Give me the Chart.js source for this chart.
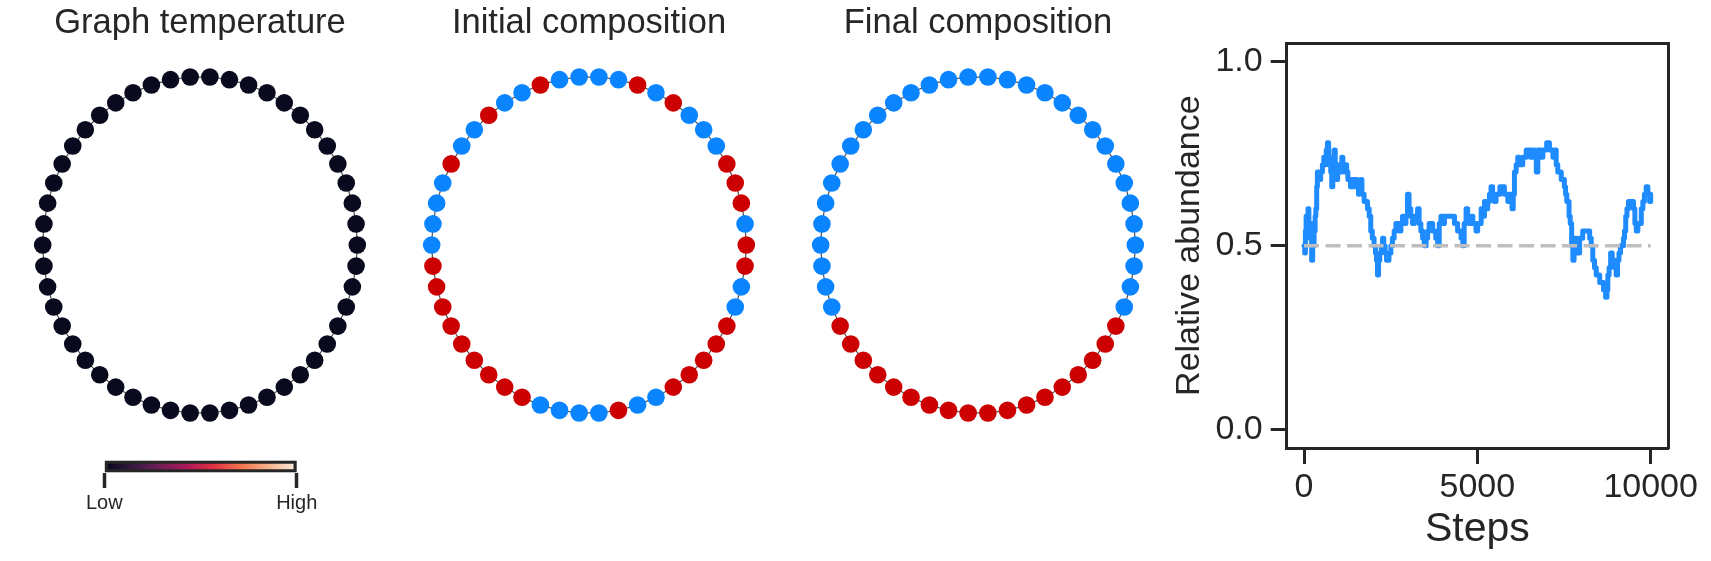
<!DOCTYPE html>
<html>
<head>
<meta charset="utf-8">
<script src="https://cdn.jsdelivr.net/npm/chart.js@4.4.1/dist/chart.umd.min.js"></script>
<style>
  html, body { margin: 0; padding: 0; background: #ffffff; }
  #wrap { position: relative; width: 1711px; height: 561px; overflow: hidden; background: #ffffff; }
  canvas { position: absolute; }
</style>
</head>
<body>
<div id="wrap">
  <canvas id="ringTemp" width="380" height="440" style="left:10px; top:0px;"></canvas>
  <canvas id="ringInit" width="380" height="440" style="left:399px; top:0px;"></canvas>
  <canvas id="ringFinal" width="380" height="440" style="left:788px; top:0px;"></canvas>
  <canvas id="cbar" width="400" height="121" style="left:0px; top:440px;"></canvas>
  <canvas id="lineChart" width="611" height="561" style="left:1100px; top:0px;"></canvas>
</div>
<script>
// ---------------- DATA ----------------
const panelTitles = ['Graph temperature', 'Initial composition', 'Final composition'];

// node states, listed from the leftmost node going clockwise (up over the top)
const graphTemperature = [
  0,0,0,0,0,0,0,0,0,0, 0,0,0,0,0,0,0,0,0,0,
  0,0,0,0,0,0,0,0,0,0, 0,0,0,0,0,0,0,0,0,0,
  0,0,0,0,0,0,0,0,0,0
];
const initialComposition = [
  'B','B','B','B','R','B','B','R','B','B',
  'R','B','B','B','B','R','B','R','B','B',
  'B','R','R','R','B','R','R','B','B','R',
  'R','R','R','R','B','B','R','B','B','B',
  'B','R','R','R','R','R','R','R','R','R'
];
const finalComposition = [
  'B','B','B','B','B','B','B','B','B','B',
  'B','B','B','B','B','B','B','B','B','B',
  'B','B','B','B','B','B','B','B','B','R',
  'R','R','R','R','R','R','R','R','R','R',
  'R','R','R','R','R','R','R','B','B','B'
];

// colour bar
const cbarRange = [0, 1];
const cbarTickValues = [0, 1];
const cbarTickLabels = ['Low', 'High'];
const rocketStops = ['#03051a', '#35193e', '#701f57', '#ad1759', '#e13342', '#f37651', '#f6b48f', '#faebdd'];

// relative abundance time series
const steps = [
  0,20,40,60,90,115,140,170,200,220,250,290,320,340,365,385,430,480,530,570,
  600,640,675,710,740,770,800,830,867,900,935,970,1010,1050,1090,1120,1155,1190,1230,1265,
  1300,1340,1375,1420,1460,1490,1530,1570,1600,1635,1670,1733,1780,1830,1880,1925,1970,2020,2060,2090,
  2120,2150,2185,2230,2265,2300,2340,2380,2410,2450,2505,2550,2600,2650,2700,2750,2795,2840,2890,2940,
  2985,3030,3080,3130,3180,3230,3275,3320,3370,3420,3470,3520,3565,3610,3660,3710,3755,3800,3855,3900,
  3950,4000,4050,4095,4200,4290,4340,4385,4430,4480,4530,4580,4620,4675,4720,4770,4820,4870,4915,4960,
  5010,5058,5110,5155,5205,5250,5300,5350,5395,5440,5490,5540,5590,5650,5730,5780,5830,5880,5925,5960,
  6000,6035,6070,6120,6165,6210,6260,6310,6360,6410,6455,6530,6600,6650,6700,6745,6795,6840,6890,6950,
  7000,7030,7080,7130,7180,7225,7275,7320,7370,7420,7470,7510,7545,7580,7610,7645,7680,7720,7755,7790,
  7830,7860,7900,7950,7995,8040,8090,8140,8190,8240,8285,8330,8380,8430,8480,8530,8575,8640,8700,8740,
  8765,8800,8845,8890,8930,8970,9005,9045,9085,9130,9180,9215,9245,9280,9315,9360,9410,9460,9505,9545,
  9585,9630,9680,9730,9775,9820,9870,9920,9970,10000
];
const abundance = [
  0.50,0.48,0.54,0.58,0.56,0.60,0.54,0.52,0.56,0.46,0.50,0.54,0.58,0.60,0.66,0.70,0.68,0.70,0.72,0.74,
  0.72,0.76,0.78,0.74,0.72,0.70,0.66,0.72,0.76,0.72,0.68,0.70,0.72,0.70,0.74,0.72,0.70,0.72,0.70,0.68,
  0.68,0.66,0.66,0.68,0.66,0.68,0.66,0.64,0.66,0.68,0.64,0.62,0.62,0.60,0.58,0.54,0.52,0.50,0.48,0.46,
  0.42,0.46,0.48,0.50,0.52,0.50,0.48,0.46,0.46,0.48,0.50,0.52,0.54,0.56,0.56,0.54,0.56,0.58,0.56,0.58,
  0.64,0.60,0.58,0.56,0.58,0.58,0.60,0.56,0.54,0.52,0.50,0.52,0.54,0.56,0.56,0.54,0.54,0.52,0.50,0.56,
  0.58,0.56,0.58,0.58,0.58,0.58,0.56,0.56,0.54,0.54,0.52,0.50,0.56,0.60,0.58,0.56,0.58,0.56,0.56,0.54,
  0.56,0.56,0.60,0.58,0.62,0.60,0.62,0.64,0.66,0.64,0.62,0.64,0.64,0.66,0.66,0.64,0.64,0.62,0.64,0.62,
  0.60,0.64,0.70,0.72,0.74,0.72,0.72,0.74,0.74,0.76,0.76,0.74,0.76,0.74,0.70,0.76,0.76,0.74,0.76,0.76,
  0.78,0.78,0.76,0.76,0.74,0.76,0.72,0.70,0.70,0.68,0.68,0.66,0.64,0.62,0.62,0.58,0.56,0.50,0.46,0.52,
  0.52,0.48,0.48,0.52,0.52,0.54,0.54,0.54,0.54,0.52,0.50,0.46,0.44,0.42,0.42,0.40,0.40,0.38,0.36,0.38,
  0.42,0.44,0.48,0.46,0.46,0.44,0.42,0.46,0.48,0.50,0.50,0.52,0.54,0.58,0.60,0.62,0.62,0.62,0.60,0.56,
  0.54,0.56,0.56,0.60,0.62,0.64,0.66,0.64,0.62,0.64
];
const baselineSteps = [0, 10000];
const baselineValues = [0.5, 0.5];
const xTickValues = [0, 5000, 10000];
const yTickValues = [0.0, 0.5, 1.0];

// ---------------- STYLE ----------------
const FONT = "'Liberation Sans', Arial, Helvetica, sans-serif";
const INK = '#262626';
const typeColors = { B: '#0a84ff', R: '#cc0000' };
const tempColor = (t) => t === 0 ? '#0a0a1e' : rocketStops[rocketStops.length - 1];

Chart.defaults.font.family = FONT;
Chart.defaults.color = INK;

// circular layout (networkx-style), node 0 at the left, going clockwise
function circularLayout(n) {
  const pts = [];
  for (let k = 0; k < n; k++) {
    const th = Math.PI - k * 2 * Math.PI / n;
    pts.push({ x: Math.cos(th), y: Math.sin(th) });
  }
  return pts;
}

function ringChart(id, title, colors) {
  const nodes = circularLayout(colors.length);
  const edges = nodes.concat([nodes[0]]);
  return new Chart(document.getElementById(id), {
    type: 'scatter',
    data: {
      datasets: [
        { label: 'nodes', data: nodes, pointRadius: 8.8, pointHoverRadius: 8.8,
          pointBackgroundColor: colors, pointBorderWidth: 0, showLine: false, order: 0 },
        { label: 'edges', data: edges, showLine: true, borderColor: '#505050', borderWidth: 1.2,
          pointRadius: 0, pointHoverRadius: 0, order: 1 }
      ]
    },
    options: {
      responsive: false, animation: false, devicePixelRatio: 1,
      layout: { padding: 0, autoPadding: false },
      plugins: {
        legend: { display: false }, tooltip: { enabled: false },
        title: { display: true, text: title, color: INK,
                 font: { size: 34.5, weight: 'normal', family: FONT },
                 padding: { top: 2.5, bottom: 6.1 } }
      },
      scales: {
        x: { display: false, min: -1.2079, max: 1.2079 },
        y: { display: false, min: -1.1586, max: 1.1586 }
      }
    }
  });
}

ringChart('ringTemp', panelTitles[0], graphTemperature.map(tempColor));
ringChart('ringInit', panelTitles[1], initialComposition.map(c => typeColors[c]));
ringChart('ringFinal', panelTitles[2], finalComposition.map(c => typeColors[c]));

// colour bar
new Chart(document.getElementById('cbar'), {
  type: 'bar',
  data: {
    labels: ['temperature'],
    datasets: [{
      data: [[cbarRange[0], cbarRange[1]]],
      backgroundColor: (ctx) => {
        const area = ctx.chart.chartArea;
        if (!area) return rocketStops[0];
        const g = ctx.chart.ctx.createLinearGradient(area.left, 0, area.right, 0);
        rocketStops.forEach((c, i) => g.addColorStop(i / (rocketStops.length - 1), c));
        return g;
      },
      borderColor: INK, borderWidth: 3.5, borderSkipped: false,
      barPercentage: 1, categoryPercentage: 1
    }]
  },
  options: {
    indexAxis: 'y', responsive: false, animation: false, devicePixelRatio: 1,
    layout: { padding: { left: 104.3, right: 103.3, top: 20.5, bottom: 0 }, autoPadding: false },
    plugins: { legend: { display: false }, tooltip: { enabled: false } },
    scales: {
      x: {
        type: 'linear', min: cbarRange[0], max: cbarRange[1],
        afterFit: (s) => { s.height = 88.5; },
        afterBuildTicks: (s) => { s.ticks = cbarTickValues.map(v => ({ value: v })); },
        ticks: { font: { size: 20 }, color: INK, padding: 3, maxRotation: 0, autoSkip: false,
                 callback: (v, i) => cbarTickLabels[i] },
        grid: { display: true, drawOnChartArea: false, drawTicks: true, tickLength: 15.5,
                tickWidth: 3.5, tickColor: INK },
        border: { display: false }
      },
      y: { display: false }
    }
  }
});

// relative abundance line chart
new Chart(document.getElementById('lineChart'), {
  type: 'scatter',
  data: {
    datasets: [
      { label: 'neutral', data: baselineSteps.map((s, i) => ({ x: s, y: baselineValues[i] })),
        showLine: true, borderColor: '#bebebe', borderWidth: 3.5, borderDash: [15, 6.5],
        pointRadius: 0, pointHoverRadius: 0, order: 0 },
      { label: 'abundance', data: steps.map((s, i) => ({ x: s, y: abundance[i] })),
        showLine: true, stepped: true, borderColor: '#1e8cff', borderWidth: 5,
        borderJoinStyle: 'round', borderCapStyle: 'round',
        pointRadius: 0, pointHoverRadius: 0, order: 1 }
    ]
  },
  options: {
    responsive: false, animation: false, devicePixelRatio: 1,
    layout: { padding: { left: 65.6, top: 43.3, right: 43, bottom: 0 }, autoPadding: false },
    plugins: { legend: { display: false }, tooltip: { enabled: false } },
    scales: {
      x: {
        type: 'linear', position: 'bottom', min: -500, max: 10500,
        afterFit: (s) => { s.height = 113; },
        afterBuildTicks: (s) => { s.ticks = xTickValues.map(v => ({ value: v })); },
        ticks: { font: { size: 34 }, color: INK, padding: 3, maxRotation: 0, autoSkip: false,
                 callback: (v) => String(v) },
        grid: { display: true, drawOnChartArea: false, drawTicks: true, tickLength: 16,
                tickWidth: 3, tickColor: INK },
        border: { display: true, width: 3, color: INK },
        title: { display: true, text: 'Steps', color: INK, font: { size: 41 },
                 padding: { top: 0, bottom: 6.4 } }
      },
      y: {
        type: 'linear', position: 'left', min: -0.05, max: 1.05,
        afterFit: (s) => { s.width = 121.1; },
        afterBuildTicks: (s) => { s.ticks = yTickValues.map(v => ({ value: v })); },
        ticks: { font: { size: 34 }, color: INK, padding: 8, autoSkip: false,
                 callback: (v) => Number(v).toFixed(1) },
        grid: { display: true, drawOnChartArea: false, drawTicks: true, tickLength: 16,
                tickWidth: 3, tickColor: INK },
        border: { display: true, width: 3, color: INK },
        title: { display: true, text: 'Relative abundance', color: INK, font: { size: 34 },
                 padding: { top: 4, bottom: 4 } }
      },
      x2: {
        type: 'linear', position: 'top', min: -500, max: 10500,
        afterFit: (s) => { s.height = 0; },
        ticks: { display: false }, grid: { display: false },
        border: { display: true, width: 3, color: INK }
      },
      y2: {
        type: 'linear', position: 'right', min: -0.05, max: 1.05,
        afterFit: (s) => { s.width = 0; },
        ticks: { display: false }, grid: { display: false },
        border: { display: true, width: 3, color: INK }
      }
    }
  }
});
</script>
</body>
</html>
